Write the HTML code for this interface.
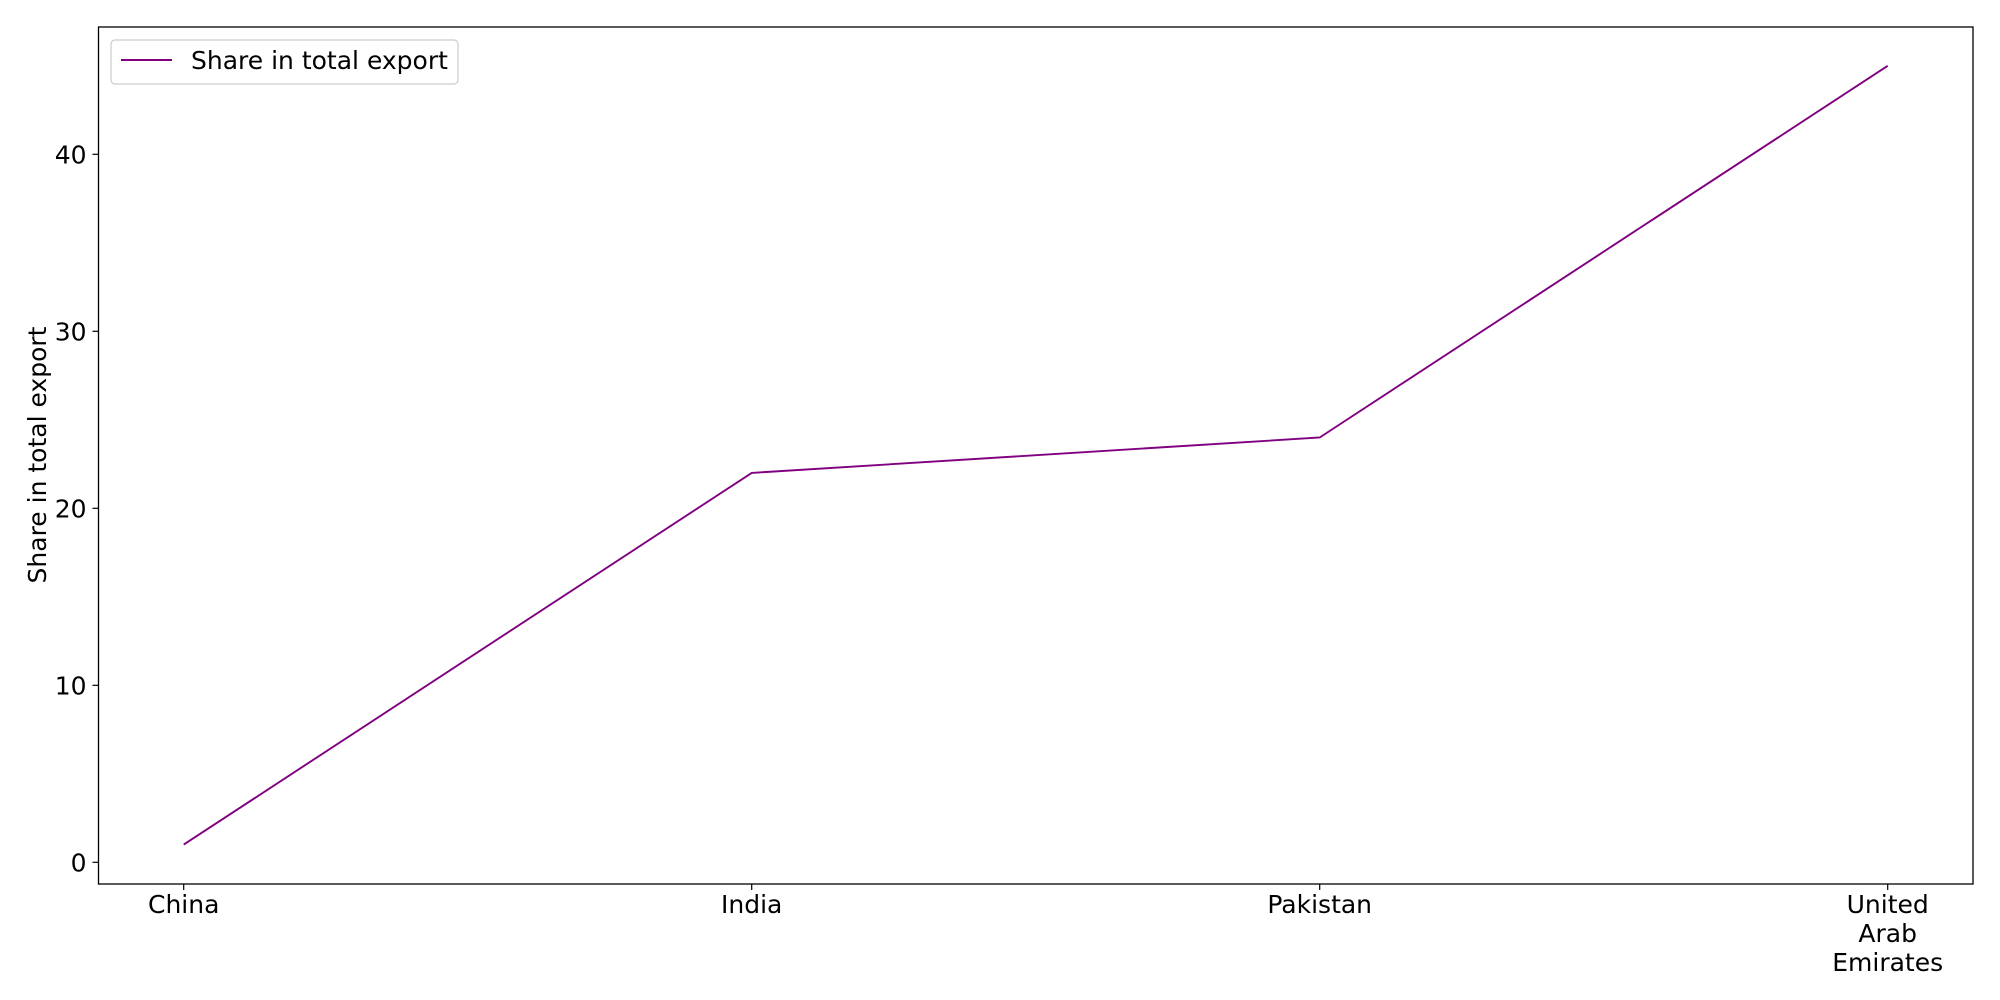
<!DOCTYPE html>
<html><head><meta charset="utf-8">
<style>
body{margin:0;background:#fff;}
svg{display:block;font-family:"DejaVu Sans","Liberation Sans",sans-serif;}
</style></head>
<body>
<svg id="chart" width="2000" height="1000" xmlns="http://www.w3.org/2000/svg">
<rect x="0" y="0" width="2000" height="1000" fill="#fff"/>
<g id="plot"></g>
</svg>
<script>
const categories = ["China","India","Pakistan","United\nArab\nEmirates"];
const values = [1, 22, 24, 45];
const yTicks = [0, 10, 20, 30, 40];
const seriesName = "Share in total export";

const L=98.5, T=27, R=1973, B=884;
const xFirst=183.7, xLast=1887.7;
function xScale(i){ return xFirst + i*(xLast-xFirst)/(categories.length-1); }
function yScale(v){ return 862.3 - v*(862.3-154.3)/40; }

const NS="http://www.w3.org/2000/svg";
const g=document.getElementById('plot');
function mk(tag,attrs,parent){const e=document.createElementNS(NS,tag);for(const k in attrs)e.setAttribute(k,attrs[k]);(parent||g).appendChild(e);return e;}

const frame=mk('rect',{x:L,y:T,width:R-L,height:B-T,fill:'none',stroke:'#000','stroke-width':1.3});



const FS=25;
yTicks.forEach(v=>{
  const y=yScale(v);
  const t=mk('line',{x1:L-6,x2:L,y1:y,y2:y,stroke:'#000','stroke-width':1.2});
  
  
  const tx=mk('text',{x:L-12,y:y+9,'text-anchor':'end','font-size':FS,fill:'#000'});
  tx.textContent=v;
  
  
});

categories.forEach((c,i)=>{
  const x=xScale(i);
  const t=mk('line',{x1:x,x2:x,y1:B,y2:B+6,stroke:'#000','stroke-width':1.2});
  
  
  const tx=mk('text',{x:x,'text-anchor':'middle','font-size':FS,fill:'#000'});
  
  
  c.split('\n').forEach((line,j)=>{
    const s=mk('tspan',{x:x,y:913+j*29},tx);
    s.textContent=line;
  });
});

const yt=mk('text',{x:0,y:0,transform:'translate(46,455) rotate(-90)','text-anchor':'middle','font-size':FS,fill:'#000'});
yt.textContent="Share in total export";



const pts=values.map((v,i)=>xScale(i)+','+yScale(v)).join(' ');
const line=mk('polyline',{points:pts,fill:'none',stroke:'#800080','stroke-width':1.9});



const lg=mk('g',{});


mk('rect',{x:111,y:40,width:347,height:44,rx:4,fill:'#fff',stroke:'#ccc','stroke-width':1.2},lg);
mk('line',{x1:121,x2:172,y1:60,y2:60,stroke:'#800080','stroke-width':1.9},lg);
const lt=mk('text',{x:191,y:69,'font-size':FS,fill:'#000'},lg);
lt.textContent=seriesName;


</script>
</body></html>
